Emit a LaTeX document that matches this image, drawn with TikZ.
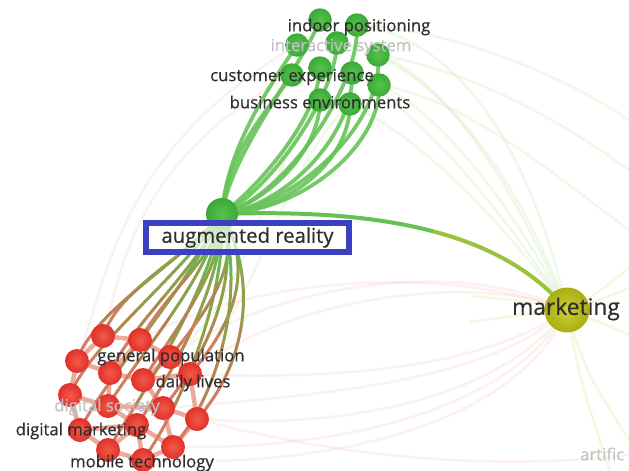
\documentclass[tikz,border=0pt]{standalone}
\usepackage{fontspec}
\setmainfont{Open Sans}
\newfontfamily\termfont[FakeBold=0.45]{Open Sans}
\usetikzlibrary{calc}

\definecolor{labeldark}{HTML}{2E2E2E}
\definecolor{labellight}{HTML}{C2C2C2}
\definecolor{boxblue}{HTML}{3A40C0}
\definecolor{gfill}{HTML}{3AAA36}
\definecolor{gfillin}{HTML}{58C24E}
\definecolor{rfill}{HTML}{E0302A}
\definecolor{rfillin}{HTML}{F25A48}
\definecolor{mfill}{HTML}{A9AE14}
\definecolor{mfillin}{HTML}{CFD030}
\definecolor{glink}{HTML}{66C458}
\definecolor{rlinkA}{HTML}{6DB34E}
\definecolor{rlinkB}{HTML}{8FA04A}
\definecolor{rlinkC}{HTML}{B08650}
\definecolor{rlinkD}{HTML}{D27C62}
\definecolor{rrlink}{HTML}{EDA99A}
\definecolor{mlinkA}{HTML}{66C052}
\definecolor{mlinkB}{HTML}{9CC23C}
\definecolor{faintgreen}{HTML}{CFE8B4}
\definecolor{faintyellow}{HTML}{E6EDB4}
\definecolor{faintpink}{HTML}{F4CDC2}

% split a cubic Bezier (four coordinate names) at t=1/2 and draw both halves
\newcommand\halfcurves[6]{%
  \coordinate (sA) at ($(#1)!0.5!(#2)$);
  \coordinate (sM) at ($(#2)!0.5!(#3)$);
  \coordinate (sC) at ($(#3)!0.5!(#4)$);
  \coordinate (sB) at ($(sA)!0.5!(sM)$);
  \coordinate (sD) at ($(sM)!0.5!(sC)$);
  \coordinate (sE) at ($(sB)!0.5!(sD)$);
  \draw[#5] (#1) .. controls (sA) and (sB) .. (sE);
  \draw[#6] (sE) .. controls (sD) and (sC) .. (#4);
}
% a link drawn in four colour steps along its length
\newcommand\fourtone[8]{%
  \coordinate (q0) at (#1); \coordinate (q1) at (#2);
  \coordinate (q2) at (#3); \coordinate (q3) at (#4);
  \coordinate (la1) at ($(q0)!0.5!(q1)$);
  \coordinate (lmm) at ($(q1)!0.5!(q2)$);
  \coordinate (lb2) at ($(q2)!0.5!(q3)$);
  \coordinate (la2) at ($(la1)!0.5!(lmm)$);
  \coordinate (lb1) at ($(lmm)!0.5!(lb2)$);
  \coordinate (lm) at ($(la2)!0.5!(lb1)$);
  \halfcurves{q0}{la1}{la2}{lm}{#5}{#6}
  \halfcurves{lm}{lb1}{lb2}{q3}{#7}{#8}
}

\tikzset{
  gnode/.style={circle, inner sep=0pt, minimum size=23.5pt, inner color=gfillin, outer color=gfill},
  rnode/.style={circle, inner sep=0pt, minimum size=24pt, inner color=rfillin, outer color=rfill},
  lbl/.style={text=labeldark, font=\termfont\fontsize{16.7}{17}\selectfont, inner sep=0pt},
  lbllight/.style={text=labellight, font=\termfont\fontsize{16.7}{17}\selectfont, inner sep=0pt},
  glinkstyle/.style={draw=glink, line width=3.8pt, opacity=0.9},
  ra/.style={draw=rlinkA, line width=3pt},
  rb/.style={draw=rlinkB, line width=3pt},
  rc/.style={draw=rlinkC, line width=3pt},
  rd/.style={draw=rlinkD, line width=3pt},
  rrstyle/.style={draw=rrlink, line width=4.5pt},
  faintg/.style={draw=faintgreen, line width=2.5pt, opacity=0.3},
  fainty/.style={draw=faintyellow, line width=2.5pt, opacity=0.4},
  faintp/.style={draw=faintpink, line width=2.5pt, opacity=0.28},
  mka/.style={draw=mlinkA, line width=4pt},
  mkb/.style={draw=mlinkB, line width=4pt},
}

\begin{document}
\begin{tikzpicture}[x=1pt, y=-1pt]
\useasboundingbox[fill=white] (0,0) rectangle (629,471);

% ---- node positions ----
\coordinate (ar) at (222,214);
\coordinate (mk) at (567,310);
\foreach \n/\p in {g1/{320,20}, g2/{357,25}, g3/{297,45}, g4/{337,43}, g5/{378,55},
                   g6/{320,68}, g7/{352,73}, g8/{379,85}, g9/{292,75}, g10/{320,100}, g11/{350,104}}
  \coordinate (\n) at (\p);
\foreach \n/\p in {r1/{103,336}, r2/{140,340}, r3/{77,361}, r4/{170,357}, r5/{110,373},
                   r6/{143,380}, r7/{190,374}, r8/{70,395}, r9/{108,406}, r10/{163,408},
                   r11/{197,419}, r12/{80,430}, r13/{137,425}, r14/{108,450}, r15/{173,447}, r16/{143,460}}
  \coordinate (\n) at (\p);

% ---- faint background links ----
\draw[faintg] (mk) .. controls (520,200) and (450,80) .. (g5);
\draw[faintg] (mk) .. controls (515,210) and (440,110) .. (g8);
\draw[faintg] (mk) .. controls (535,170) and (470,40) .. (g2);
\draw[faintg] (mk) .. controls (505,225) and (425,140) .. (g11);
\draw[faintg] (mk) .. controls (505,215) and (430,120) .. (g7);
\draw[faintg] (mk) .. controls (525,190) and (440,60) .. (g4);
\draw[faintg] (g5) .. controls (470,70) and (560,120) .. (629,170);
\draw[faintg] (g2) .. controls (460,30) and (570,80) .. (629,120);
\draw[faintg] (g8) .. controls (470,100) and (560,180) .. (629,230);
\draw[faintg] (r4) .. controls (250,300) and (260,180) .. (g10);
\draw[faintg] (r7) .. controls (260,300) and (280,170) .. (g11);
\draw[fainty] (mk) .. controls (595,295) .. (629,268);
\draw[fainty] (mk) .. controls (600,300) .. (629,288);
\draw[fainty] (mk) .. controls (600,322) .. (629,335);
\draw[fainty] (mk) .. controls (585,370) .. (629,440);
\draw[fainty] (mk) .. controls (580,380) .. (610,471);
\draw[fainty] (mk) .. controls (520,300) .. (470,296);
\draw[fainty] (mk) .. controls (520,315) .. (470,322);
\draw[faintp] (r4) .. controls (270,285) and (460,255) .. (mk);
\draw[faintp] (r7) .. controls (280,300) and (470,270) .. (mk);
\draw[faintp] (r2) .. controls (250,275) and (450,265) .. (mk);
\draw[faintp] (r7) .. controls (330,380) and (480,370) .. (mk);
\draw[faintp] (r10) .. controls (330,395) and (490,380) .. (mk);
\draw[faintp] (r11) .. controls (340,430) and (500,400) .. (mk);
\draw[faintp] (r15) .. controls (340,450) and (510,410) .. (mk);
\draw[faintp] (r16) .. controls (340,470) and (520,420) .. (mk);
\draw[faintp] (r11) .. controls (350,460) and (500,470) .. (629,455);
\draw[faintp] (r1) .. controls (120,280) and (130,160) .. (g9);
\draw[faintp] (r3) .. controls (110,270) and (120,150) .. (g3);

% ---- links between the red terms ----
\foreach \a/\b in {r1/r2, r1/r3, r2/r4, r3/r5, r2/r5, r5/r6, r4/r6, r4/r7, r6/r7,
                   r3/r8, r8/r9, r5/r9, r9/r10, r6/r10, r7/r11, r10/r11, r8/r12,
                   r12/r13, r9/r13, r13/r14, r12/r14, r13/r15, r10/r15, r14/r16,
                   r15/r16, r11/r15, r13/r16}
  \draw[rrstyle] (\a) -- (\b);

% ---- augmented reality to the red terms ----
\foreach \n/\dxa/\dxb in {r1/8/18, r3/6/16, r8/10/20, r5/14/22, r12/14/24,
                          r2/22/28, r9/24/30, r14/26/30, r6/28/32, r13/30/34, r16/32/36,
                          r4/38/40, r10/40/42, r7/44/44, r15/42/44, r11/48/46}
  \fourtone{ar}{$(ar)!0.35!(\n)+(\dxa,0)$}{$(\n)+(\dxb,-50)$}{\n}{ra}{rb}{rc}{rd};

% ---- augmented reality to the green terms ----
\draw[glinkstyle] (ar) .. controls (232,150) and (300,70) .. (g1);
\draw[glinkstyle] (ar) .. controls (280,200) and (360,90) .. (g2);
\draw[glinkstyle] (ar) .. controls (226,150) and (270,85) .. (g3);
\draw[glinkstyle] (ar) .. controls (265,195) and (335,100) .. (g4);
\draw[glinkstyle] (ar) .. controls (300,205) and (385,120) .. (g5);
\draw[glinkstyle] (ar) .. controls (255,190) and (318,120) .. (g6);
\draw[glinkstyle] (ar) .. controls (290,205) and (355,130) .. (g7);
\draw[glinkstyle] (ar) .. controls (310,210) and (382,140) .. (g8);
\draw[glinkstyle] (ar) .. controls (228,150) and (268,110) .. (g9);
\draw[glinkstyle] (ar) .. controls (270,200) and (320,150) .. (g10);
\draw[glinkstyle] (ar) .. controls (290,210) and (350,160) .. (g11);

% ---- augmented reality to marketing ----
\coordinate (m1) at (390,208);
\coordinate (m2) at (505,235);
\halfcurves{ar}{m1}{m2}{mk}{mka}{mkb}

% ---- term circles ----
\foreach \n in {g1,g2,g3,g4,g5,g6,g7,g8,g9,g10,g11}
  \node[gnode] (\n c) at (\n) {};
\foreach \n in {r1,r2,r3,r4,r5,r6,r7,r8,r9,r10,r11,r12,r13,r14,r15,r16}
  \node[rnode] (\n c) at (\n) {};
\node[circle, inner sep=0pt, minimum size=32pt, inner color=gfillin, outer color=gfill] (arc) at (ar) {};
\node[circle, inner sep=0pt, minimum size=45pt, inner color=mfillin, outer color=mfill] (mkc) at (mk) {};

% ---- labels ----
\node[lbllight] (t2) at (341,47) {interactive system};
\node[lbl] (t1) at (359,27) {indoor positioning};
\node[lbl] (t3) at (292,77) {customer experience};
\node[lbl] (t4) at (320,102) {business environments};
\node[lbl] (t5) at (171,357) {general population};
\node[lbl] (t6) at (193,383) {daily lives};
\node[lbllight] (t7) at (107,407) {digital society};
\node[lbl] (t8) at (81,431) {digital marketing};
\node[lbl] (t9) at (142,463) {mobile technology};
\node[lbllight, anchor=west] (t10) at (580,454) {artific};
\node[text=labeldark, font=\termfont\fontsize{22.8}{23}\selectfont, inner sep=0pt] (tm) at (566,309) {marketing};

% ---- highlighted augmented reality label ----
\node[draw=boxblue, line width=6pt, fill=white, fill opacity=0.7, text opacity=1,
      minimum width=203pt, minimum height=29pt, inner sep=0pt, text=labeldark,
      font=\termfont\fontsize{20.3}{20}\selectfont] (arbox) at (247.5,237.5) {augmented reality};
\end{tikzpicture}
\end{document}
